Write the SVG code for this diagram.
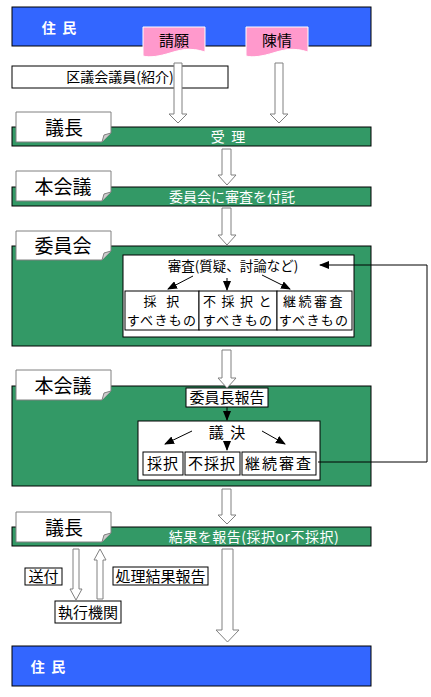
<svg xmlns="http://www.w3.org/2000/svg" width="431" height="697" viewBox="0 0 431 697">
<defs>
<style>
text{font-family:"Noto Sans CJK JP","Liberation Sans",sans-serif;white-space:pre}
.blue{fill:#3366FF;stroke:#000;stroke-width:1}
.green{fill:#339966;stroke:#000;stroke-width:1}
.wt{fill:#fff;font-size:14px;text-anchor:middle}
.bt{fill:#000;font-size:14px;text-anchor:middle}
.two{font-size:13px;letter-spacing:1.3px}
.box{fill:#fff;stroke:#000;stroke-width:1}
.callout{fill:#fff;stroke:#808080;stroke-width:1}
.lbl{fill:#000;font-size:19px;text-anchor:middle}
.hollow{fill:#fff;stroke:#808080;stroke-width:1}
.ln{stroke:#000;stroke-width:1;fill:none}
.pink{fill:#FF99CC;stroke:#fff;stroke-width:1}
</style>
<marker id="ah" markerWidth="10" markerHeight="8" refX="9" refY="4" orient="auto" markerUnits="userSpaceOnUse">
<path d="M0,0 L10,4 L0,8 Z" fill="#000"/>
</marker>
</defs>

<g id="jumin-top">
<rect class="blue" x="12" y="7" width="359" height="39"/>
<text x="59" y="33" class="wt" style="font-weight:bold" xml:space="preserve">住  民</text>
</g>

<g id="seigan">
<path class="pink" d="M143,27 H205 V52 C190,47 180,50 170,53 C160,56 150,58 143,56 Z"/>
<text x="174" y="46" class="bt" style="font-size:15px">請願</text>
</g>
<g id="chinjo">
<path class="pink" d="M246,27 H308 V52 C293,47 283,50 273,53 C263,56 253,58 246,56 Z"/>
<text x="277" y="46" class="bt" style="font-size:15px">陳情</text>
</g>

<g id="kugiin">
<rect class="box" x="12" y="66" width="216" height="22"/>
<text x="120" y="82" class="bt">区議会議員(紹介)</text>
</g>

<g id="gicho1">
<rect class="green" x="12" y="127" width="359" height="19"/>
<path class="callout" d="M16,112 H111 V133 L102,142 H16 Z"/>
<path d="M102,142 L104,135 L111,133" fill="#ccc" stroke="#808080"/>
<text x="64" y="135" class="lbl">議長</text>
<text x="228" y="142" class="wt" xml:space="preserve">受  理</text>
</g>

<g id="honkaigi1">
<rect class="green" x="12" y="187" width="359" height="19"/>
<path class="callout" d="M16,171 H111 V192 L102,201 H16 Z"/>
<path d="M102,201 L104,194 L111,192" fill="#ccc" stroke="#808080"/>
<text x="63" y="194" class="lbl">本会議</text>
<text x="232" y="202" class="wt">委員会に審査を付託</text>
</g>

<g id="iinkai">
<rect class="green" x="12" y="246" width="359" height="100"/>
<path class="callout" d="M16,231 H111 V251 L102,260 H16 Z"/>
<path d="M102,260 L104,253 L111,251" fill="#ccc" stroke="#808080"/>
<text x="63" y="253" class="lbl">委員会</text>
<rect class="box" x="123" y="255" width="231" height="82"/>
<text x="233" y="271" class="bt" style="font-size:13.5px">審査(質疑、討論など)</text>
<rect class="box" x="125" y="291" width="74" height="39"/>
<rect class="box" x="199" y="291" width="78" height="39"/>
<rect class="box" x="277" y="291" width="75" height="39"/>
<text x="162" y="306" class="bt two" xml:space="preserve">採  択</text>
<text x="162" y="325" class="bt two">すべきもの</text>
<text x="238" y="306" class="bt two" xml:space="preserve">不 採 択 と</text>
<text x="238" y="325" class="bt two">すべきもの</text>
<text x="314" y="306" class="bt two" style="letter-spacing:2.5px">継続審査</text>
<text x="314" y="325" class="bt two">すべきもの</text>
</g>

<g id="honkaigi2">
<rect class="green" x="12" y="386" width="359" height="100"/>
<path class="callout" d="M16,370 H111 V391 L102,400 H16 Z"/>
<path d="M102,400 L104,393 L111,391" fill="#ccc" stroke="#808080"/>
<text x="63" y="393" class="lbl">本会議</text>
<rect class="box" x="186" y="388" width="82" height="19"/>
<text x="227" y="403" class="bt" style="font-size:15px">委員長報告</text>
<rect class="box" x="138" y="421" width="182" height="59"/>
<text x="227" y="438" class="bt" style="font-size:15px" xml:space="preserve">議  決</text>
<rect class="box" x="143" y="452" width="40" height="23"/>
<rect class="box" x="185" y="452" width="55" height="23"/>
<rect class="box" x="242" y="452" width="74" height="23"/>
<text x="163" y="469" class="bt" style="font-size:15px;letter-spacing:1px">採択</text>
<text x="212" y="469" class="bt" style="font-size:15px;letter-spacing:1px">不採択</text>
<text x="279" y="469" class="bt" style="font-size:15px;letter-spacing:2px">継続審査</text>
</g>

<g id="gicho2">
<rect class="green" x="12" y="527" width="359" height="19"/>
<path class="callout" d="M16,512 H111 V533 L102,542 H16 Z"/>
<path d="M102,542 L104,535 L111,533" fill="#ccc" stroke="#808080"/>
<text x="64" y="535" class="lbl">議長</text>
<text x="254" y="542" class="wt" style="letter-spacing:0.5px">結果を報告(採択or不採択)</text>
</g>

<g id="sofu">
<rect class="box" x="25" y="568" width="37" height="17"/>
<text x="43.5" y="582" class="bt" style="font-size:15px">送付</text>
</g>
<g id="shori">
<rect class="box" x="113" y="567" width="95" height="18"/>
<text x="160.5" y="582" class="bt" style="font-size:15px">処理結果報告</text>
</g>
<g id="shikko">
<rect class="box" x="55" y="601" width="66" height="22"/>
<text x="88" y="618" class="bt" style="font-size:15px">執行機関</text>
</g>

<g id="jumin-bottom">
<rect class="blue" x="12" y="646" width="359" height="40"/>
<text x="48" y="672" class="wt" style="font-weight:bold" xml:space="preserve">住  民</text>
</g>

<g id="connectors">
<path class="hollow" d="M174,63 H182 V114 H187 L178,123 L169,114 H174 Z"/>
<path class="hollow" d="M275,63 H283 V114 H288 L279,123 L270,114 H275 Z"/>
<path class="hollow" d="M222,149 H231 V175 H236 L227,185 L218,175 H222 Z"/>
<path class="hollow" d="M222,208 H231 V235 H236 L227,245 L218,235 H222 Z"/>
<path class="hollow" d="M222,350 H231 V378 H236 L227,388 L218,378 H222 Z"/>
<path class="hollow" d="M222,489 H231 V515 H236 L227,524 L218,515 H222 Z"/>
<path class="hollow" d="M222,549 H233 V630 H239 L227.5,642 L216,630 H222 Z"/>
<path class="hollow" d="M73,549 H79 V589 H82 L76,600 L70,589 H73 Z"/>
<path class="hollow" d="M97,599 H103 V560 H106 L100,549 L94,560 H97 Z"/>
<path class="ln" d="M318,462 H427 V265 H320" marker-end="url(#ah)"/>
<line class="ln" x1="193" y1="276" x2="168" y2="289" marker-end="url(#ah)"/>
<line class="ln" x1="227" y1="278" x2="227" y2="290" marker-end="url(#ah)"/>
<line class="ln" x1="262" y1="275" x2="290" y2="289" marker-end="url(#ah)"/>
<line class="ln" x1="227" y1="407" x2="227" y2="420" marker-end="url(#ah)"/>
<line class="ln" x1="192" y1="431" x2="165" y2="444" marker-end="url(#ah)"/>
<line class="ln" x1="227" y1="441" x2="227" y2="450" marker-end="url(#ah)"/>
<line class="ln" x1="262" y1="431" x2="285" y2="444" marker-end="url(#ah)"/>
</g>
</svg>
